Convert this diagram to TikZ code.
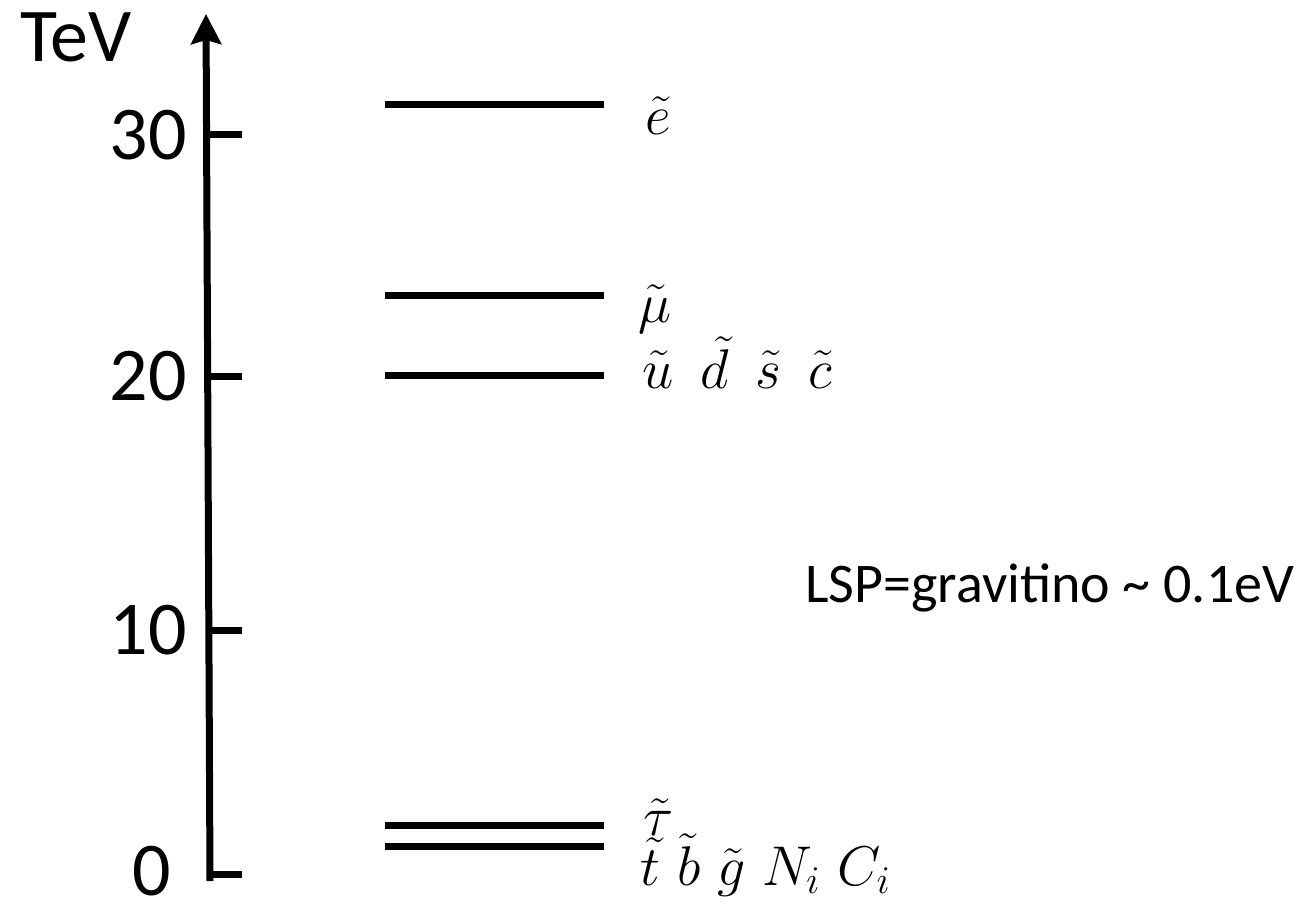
\documentclass[tikz,border=0pt]{standalone}
\usepackage{fix-cm}
\usepackage{fontspec}
\setsansfont{Carlito}
\usetikzlibrary{positioning, arrows.meta}

\begin{document}
\begin{tikzpicture}[
        x=0.5pt, y=-0.5pt,
        axis/.style = {line width=3.5pt, -{Stealth[length=15pt, width=15pt, inset=2pt]}},
        tickmark/.style = {line width=3.5pt},
        level/.style = {line width=3.5pt},
        num/.style = {font=\sffamily\fontsize{38}{42}\selectfont, inner sep=0pt},
        spart/.style = {font=\fontsize{28}{30}\selectfont, inner sep=0pt, anchor=base west},
    ]
    \useasboundingbox (0,0) rectangle (1307,904);
    % energy axis
    \coordinate (axbot) at (210,881);
    \coordinate (axtop) at (206,14);
    \draw[axis] (axbot) -- (axtop);
    \node[num, anchor=base west] (unit) at (20,62) {TeV};
    % ticks and their values
    \foreach \val/\ypos in {10/630, 20/376, 30/135} {
        \draw[tickmark] (210,\ypos) -- (242,\ypos);
        \node[num, anchor=east] (tick\val) at (187,\ypos) {\val};
    }
    \draw[tickmark] (210,874) -- (242,874);
    \node[num] (tick0) at (152,871) {0};
    % mass levels
    \foreach \ypos in {105, 295, 375, 825, 846}
        \draw[level] (385,\ypos) -- (604,\ypos);
    \node[spart] (sel) at (645,134) {$\tilde e$};
    \node[spart] (smu) at (638,322) {$\tilde\mu$};
    \node[spart] (squark) at (642,388) {$\tilde u\hspace{0.48em}\tilde d\hspace{0.48em}\tilde s\hspace{0.48em}\tilde c$};
    \node[spart] (stau) at (643,835) {$\tilde\tau$};
    \node[spart] (light) at (640,885) {$\tilde t\ \tilde b\ \tilde g\ N_i\ C_i$};
    \node[font=\sffamily\fontsize{28}{32}\selectfont, inner sep=0pt, anchor=base west] (lsp) at (805,602) {LSP=gravitino \textasciitilde{} 0.1eV};
\end{tikzpicture}
\end{document}
